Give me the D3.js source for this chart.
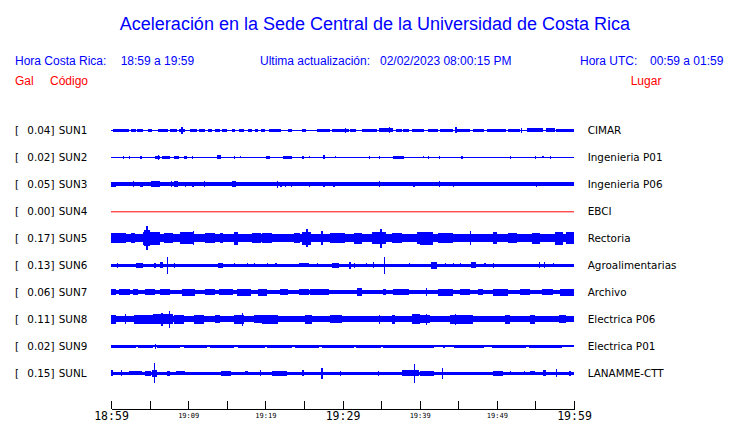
<!DOCTYPE html>
<html><head><meta charset="utf-8">
<script src="https://cdn.jsdelivr.net/npm/d3@7"></script>
<style>body{margin:0;background:#fff}svg{display:block}</style>
</head><body>
<script>
// ---------- data ----------
const stations = ["SUN1","SUN2","SUN3","SUN4","SUN5","SUN6","SUN7","SUN8","SUN9","SUNL"];
const peakGal  = [0.04,0.02,0.05,0.00,0.17,0.13,0.06,0.11,0.02,0.15];
const places   = ["CIMAR","Ingenieria P01","Ingenieria P06","EBCI","Rectoria","Agroalimentarias","Archivo","Electrica P06","Electrica P01","LANAMME-CTT"];
// continuous background amplitude (Gal) of each trace
const noiseGal = [0.010,0.006,0.030,0.000,0.060,0.022,0.030,0.045,0.012,0.022];
// bursts: [start minute, end minute, half-amplitude Gal]
const burstsSUN1 = [[0.3,2.3,.023],[2.6,3.2,.021],[3.4,4.2,.021],[4.8,5.3,.021],[6.1,7.4,.023],[7.6,8.5,.021],[8.8,9.6,.025],[9.1,9.3,.052],[10.2,11.1,.023],[11.4,12.2,.021],[12.6,13.1,.021],[13.5,14.1,.023],[14.4,15.0,.021],[15.7,16.1,.021],[16.6,17.2,.023],[17.7,18.3,.021],[18.6,19.0,.021],[19.4,20.0,.023],[20.5,22.0,.025],[22.9,23.5,.021],[24.8,25.3,.021],[26.7,28.4,.025],[28.6,30.8,.023],[30.3,30.5,.037],[31.0,31.8,.021],[32.5,34.5,.025],[34.7,36.5,.03],[36.0,36.2,.044],[36.9,37.7,.021],[37.9,38.6,.021],[39.0,40.6,.023],[41.1,42.4,.025],[42.6,44.3,.023],[44.6,44.8,.044],[44.8,46.5,.023],[46.9,48.4,.025],[48.7,51.2,.023],[51.5,53.0,.025],[53.1,53.3,.037],[53.9,56.0,.03],[56.4,57.5,.03],[57.7,60,.025]];
const burstsSUN2 = [[1.5,1.6,.02],[2.3,2.4,.018],[3.8,3.9,.02],[5.7,6.4,.022],[6.05,6.2,.037],[6.6,7.6,.018],[8.1,8.8,.02],[9.5,9.9,.018],[10.5,10.6,.02],[13.7,14.2,.03],[15.9,16.0,.02],[16.7,16.8,.015],[20.1,20.6,.022],[22.3,23.5,.02],[24.8,24.9,.018],[25.6,25.7,.015],[27.5,27.7,.03],[29.0,29.1,.015],[33.4,33.5,.018],[34.7,34.8,.018],[36.6,38.0,.02],[40.4,40.5,.015],[41.1,41.2,.022],[42.5,42.6,.018],[45.4,45.5,.018],[51.7,51.8,.02],[54.9,55.0,.018],[55.9,56.0,.015],[56.9,57.0,.022]];
const burstsSUN3 = [[0,0.6,.04],[2.8,2.9,.042],[3.8,4.2,.04],[5.2,6.4,.042],[7.8,7.9,.042],[8.1,8.7,.044],[9.6,9.7,.04],[10.5,10.7,.04],[12.0,12.1,.042],[15.7,16.2,.042],[21.5,21.6,.055],[21.9,22.1,.038],[22.5,22.6,.038],[23.3,23.4,.038],[25.6,25.7,.038],[27.5,27.6,.04],[28.8,29.0,.038],[34.7,34.8,.042],[39.2,39.3,.04],[42.5,42.6,.042],[44.3,44.4,.038],[55.1,55.2,.038]];
const burstsSUN4 = [];
const burstsSUN5 = [[0,1.9,.072],[2.6,3.1,.075],[4.1,6.3,.095],[4.3,4.5,.12],[4.55,4.75,.175],[4.8,5.0,.12],[6.9,8.0,.075],[9.0,10.8,.09],[10.6,10.7,.105],[12.2,13.5,.075],[14.1,14.5,.072],[16.0,16.5,.095],[18.3,19.5,.075],[19.6,20.9,.075],[23.7,24.5,.075],[24.8,25.9,.1],[25.3,25.5,.133],[27.25,27.4,.105],[28.4,30.3,.075],[31.5,32.5,.082],[33.8,35.7,.09],[34.9,35.1,.141],[36.4,37.7,.075],[39.6,40.3,.088],[40.0,41.7,.096],[42.4,44.3,.075],[46.5,46.7,.105],[49.5,50.0,.09],[51.5,52.6,.075],[54.5,55.6,.082],[57.6,58.6,.096],[59.0,60,.09]];
const burstsSUN6 = [[0.8,0.9,.035],[3.2,4.1,.037],[5.6,5.7,.037],[6.4,6.7,.044],[7.25,7.4,.125],[8.1,8.2,.037],[13.9,14.5,.037],[15.9,16.0,.03],[17.6,17.7,.03],[18.5,18.6,.03],[20.2,20.3,.03],[21.3,21.4,.03],[24.4,25.6,.03],[26.7,26.8,.03],[28.6,29.5,.034],[30.9,31.0,.052],[31.5,31.6,.037],[33.0,33.1,.03],[33.9,34.0,.044],[35.35,35.5,.13],[38.6,38.7,.03],[41.5,42.2,.05],[43.3,43.4,.03],[44.3,44.4,.03],[45.2,45.3,.03],[46.7,47.3,.044],[48.4,48.5,.03],[49.5,49.6,.037],[55.4,55.5,.044],[56.1,56.2,.047],[57.3,57.4,.03]];
const burstsSUN7 = [[0,0.6,.044],[1.0,2.4,.044],[2.8,3.5,.044],[4.4,5.7,.044],[6.3,7.6,.044],[9.2,10.9,.052],[12.2,13.5,.044],[14.0,15.8,.044],[16.3,18.2,.048],[19.0,20.2,.052],[21.9,23.0,.044],[24.4,25.6,.042],[25.8,28.2,.044],[31.9,32.5,.06],[35.3,35.7,.044],[36.6,38.6,.044],[40.8,41.0,.06],[42.4,44.3,.052],[45.2,46.5,.044],[47.6,48.2,.044],[49.5,51.5,.048],[53.0,54.3,.044],[55.8,57.3,.044],[58.2,60,.052]];
const burstsSUN8 = [[0,0.6,.065],[1.75,1.9,.075],[3.0,5.4,.065],[5.5,8.0,.075],[6.5,6.7,.095],[7.5,7.7,.125],[8.1,9.4,.065],[10.7,12.0,.065],[13.5,14.1,.062],[15.9,17.2,.07],[17.0,17.15,.096],[18.5,20.0,.062],[19.6,21.7,.07],[25.2,26.0,.068],[28.4,29.9,.062],[34.7,34.8,.067],[36.4,36.8,.07],[39.0,40.0,.075],[40.0,41.3,.062],[40.8,40.95,.081],[43.9,46.9,.068],[44.6,44.75,.081],[51.1,51.7,.068],[54.3,55.0,.065],[58.0,58.9,.06]];
const burstsSUN9 = [[0,3.2,.022],[3.5,5.5,.022],[5.65,5.8,.037],[6.0,9.0,.022],[9.4,12.5,.022],[12.8,16.0,.022],[16.4,20.0,.022],[20.2,23.5,.022],[23.8,27.0,.022],[27.3,31.5,.022],[31.8,35.0,.022],[35.3,40.0,.022],[40.0,41.8,.022],[43.0,43.3,.022],[44.5,48.3,.022],[49.4,53.8,.022],[54.2,58.5,.022]];
const burstsSUNL = [[0,0.2,.045],[1.3,1.4,.044],[2.3,4.0,.03],[4.4,5.2,.037],[5.3,5.9,.052],[5.55,5.7,.15],[7.2,7.6,.037],[8.4,9.6,.03],[14.3,15.6,.037],[17.4,17.8,.03],[19.3,19.4,.044],[20.9,22.8,.037],[24.8,24.9,.044],[27.25,27.4,.081],[29.7,29.8,.037],[34.6,34.7,.037],[37.7,39.9,.044],[39.25,39.4,.138],[40.0,41.9,.037],[42.85,43.0,.081],[49.5,50.8,.037],[51.7,51.8,.03],[53.5,53.6,.03],[54.3,54.9,.03],[56.0,56.4,.044],[57.65,57.8,.062],[59.4,59.5,.037]];
const bursts = [burstsSUN1,burstsSUN2,burstsSUN3,burstsSUN4,burstsSUN5,burstsSUN6,burstsSUN7,burstsSUN8,burstsSUN9,burstsSUNL];

const tickMinutes = [0,5,10,15,20,25,30,35,40,45,50,55,60];
const tickLabels  = ["18:59","","19:09","","19:19","","19:29","","19:39","","19:49","","19:59"];
const majorTicks  = ["18:59","19:29","19:59"];

const title = "Aceleración en la Sede Central de la Universidad de Costa Rica";

// ---------- drawing ----------
const W = 740, H = 423;
const BLUE = "#0000ff", RED = "#ff0000";
const svg = d3.select("body").append("svg").attr("width", W).attr("height", H);

const x = d3.scaleLinear().domain([0, 60]).range([111, 574]);
const yRow = d3.scalePoint().domain(stations).range([130.3, 373.3]);
const amp = d3.scaleLinear().domain([0, 0.2]).range([0, 13.5]);

// title & header
svg.append("text").attr("x", 375).attr("y", 29.5).attr("text-anchor", "middle")
  .attr("font-family", "Liberation Sans, Arial, sans-serif").attr("font-size", 18)
  .attr("fill", BLUE).text(title);

const head = [
  ["Hora Costa Rica:", 15, 65, BLUE],
  ["18:59 a 19:59", 120.7, 65, BLUE],
  ["Ultima actualización:", 260, 65, BLUE],
  ["02/02/2023 08:00:15 PM", 380, 65, BLUE],
  ["Hora UTC:", 580, 65, BLUE],
  ["00:59 a 01:59", 650, 65, BLUE],
  ["Gal", 15, 85, RED],
  ["Código", 50, 85, RED],
  ["Lugar", 630.7, 85, RED]
];
svg.selectAll("text.head").data(head).join("text").attr("class", "head")
  .attr("x", d => d[1]).attr("y", d => d[2]).attr("fill", d => d[3])
  .attr("font-family", "Liberation Sans, Arial, sans-serif").attr("font-size", 12)
  .text(d => d[0]);

// rows
const rows = svg.selectAll("g.row").data(stations).join("g").attr("class", "row")
  .attr("transform", d => `translate(0,${yRow(d)})`);

const lab = { "font-family": "DejaVu Sans, sans-serif", "font-size": 10.4, fill: "#000" };
function styleLab(s){ Object.entries(lab).forEach(([k,v]) => s.attr(k, v)); return s; }
styleLab(rows.append("text").attr("x", 15).attr("y", 4).text("["));
styleLab(rows.append("text").attr("x", 54.5).attr("y", 4).attr("text-anchor", "end")
  .text((d, i) => peakGal[i].toFixed(2) + "]"));
styleLab(rows.append("text").attr("x", 58.7).attr("y", 4).text(d => d));
styleLab(rows.append("text").attr("x", 587.7).attr("y", 4).text((d, i) => places[i]));

rows.each(function(code, i) {
  const g = d3.select(this);
  if (noiseGal[i] === 0 && bursts[i].length === 0) {
    g.append("line").attr("x1", x(0)).attr("x2", x(60)).attr("y1", 0.5).attr("y2", 0.5)
      .attr("stroke", RED).attr("stroke-width", 1);
    return;
  }
  const segs = [[0, 60, noiseGal[i]]].concat(bursts[i]);
  g.selectAll("rect").data(segs).join("rect")
    .attr("x", d => x(d[0]))
    .attr("width", d => Math.max(x(d[1]) - x(d[0]), 1.3))
    .attr("y", d => -Math.max(amp(d[2]), 0.5))
    .attr("height", d => 2 * Math.max(amp(d[2]), 0.5))
    .attr("fill", BLUE).attr("shape-rendering", "crispEdges");
});

// time axis
const axis = d3.axisBottom(x).tickValues(tickMinutes)
  .tickFormat((d, i) => tickLabels[i]).tickSizeInner(-8).tickSizeOuter(0).tickPadding(0);
const ag = svg.append("g").attr("transform", "translate(0,409)").call(axis);
ag.selectAll("path,line").attr("stroke", "#000").attr("stroke-width", 1).attr("shape-rendering", "crispEdges");
const isMajor = d => majorTicks.includes(tickLabels[tickMinutes.indexOf(d)]);
ag.selectAll("text").attr("fill", "#000").attr("font-family", "DejaVu Sans Mono, monospace")
  .attr("dy", null)
  .attr("y", d => isMajor(d) ? 10.5 : 8.5)
  .attr("font-size", d => isMajor(d) ? 11.5 : 7);
</script>
</body></html>
